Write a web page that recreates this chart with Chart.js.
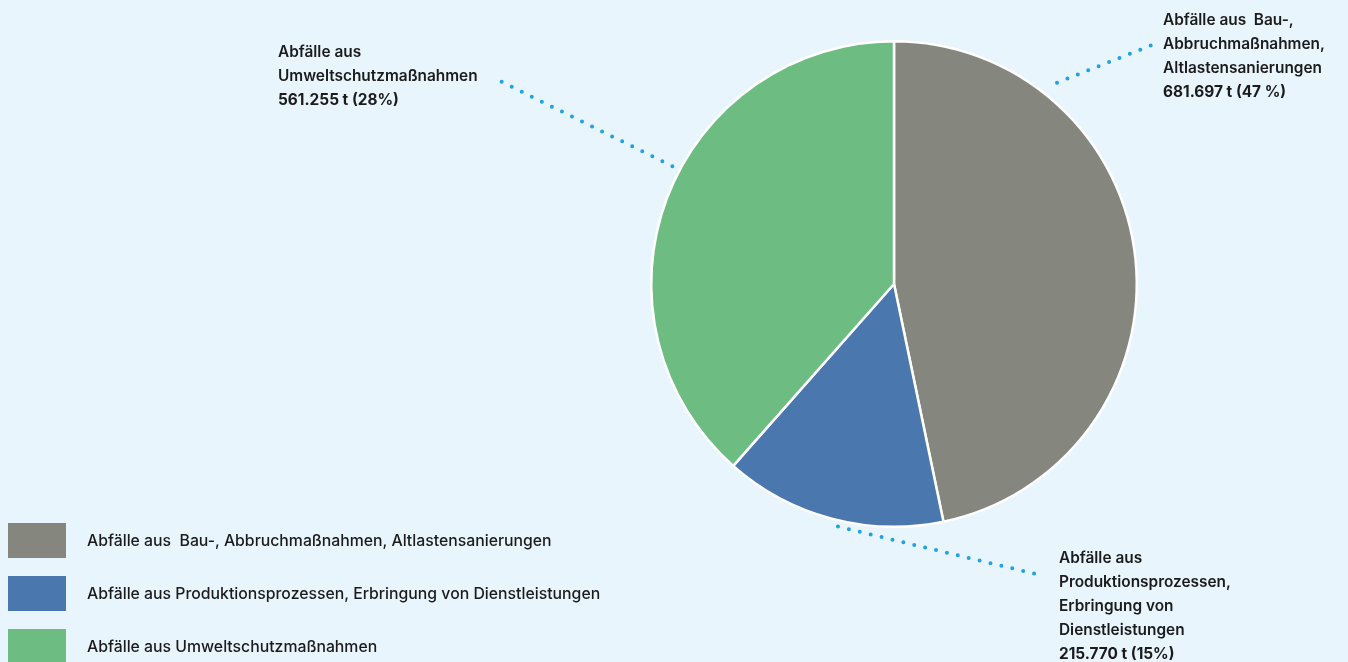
<!DOCTYPE html>
<html>
<head>
<meta charset="utf-8">
<script src="https://cdn.jsdelivr.net/npm/chart.js@4"></script>
<style>
  html, body { margin: 0; padding: 0; background: #e8f5fd; }
  #wrap { position: relative; width: 1348px; height: 662px; overflow: hidden; }
  #wrap canvas { position: absolute; left: 0; top: 0; }
  #legend { position: absolute; left: 8px; top: 523px; font-family: Inter, sans-serif; font-size: 15.8px; font-weight: 500; color: #1b1b1b; }
  .item { height: 35px; margin-bottom: 18px; display: flex; align-items: center; }
  .box { width: 58px; height: 35px; margin-right: 21px; }
</style>
</head>
<body>
<div id="wrap">
  <canvas id="myChart" width="1348" height="662"></canvas>
  <div id="legend"></div>
</div>
<script>
var labels = [
    'Abfälle aus\u00a0 Bau-, Abbruchmaßnahmen, Altlastensanierungen',
    'Abfälle aus Produktionsprozessen, Erbringung von Dienstleistungen',
    'Abfälle aus Umweltschutzmaßnahmen'
];
var tonnes = [681697, 215770, 561255];
var shareText = ['47 %', '15%', '28%'];
var calloutLines = [
    ['Abfälle aus\u00a0 Bau-,', 'Abbruchmaßnahmen,', 'Altlastensanierungen'],
    ['Abfälle aus', 'Produktionsprozessen,', 'Erbringung von', 'Dienstleistungen'],
    ['Abfälle aus', 'Umweltschutzmaßnahmen']
];
var colors = ['#85877f', '#4a78ae', '#6dbd83'];

// where each callout sits and where its dotted leader starts (angle from top, px from centre)
var callouts = [
    { x: 1163, y: 20, angle: 39, dist: 259 },
    { x: 1059, y: 558, angle: 193, dist: 249 },
    { x: 278, y: 52, angle: 298, dist: 251 }
];
var leaderEnds = [[1152, 45], [1040, 575], [498, 80]];

var calloutPlugin = {
    id: 'callouts',
    afterDraw: function(chart) {
        var ctx = chart.ctx;
        var arc = chart.getDatasetMeta(0).data[0];
        var cx = arc.x, cy = arc.y;
        ctx.save();
        callouts.forEach(function(c, i) {
            var a = c.angle * Math.PI / 180;
            var sx = cx + c.dist * Math.sin(a);
            var sy = cy - c.dist * Math.cos(a);
            ctx.beginPath();
            ctx.setLineDash([0, 11.2]);
            ctx.lineCap = 'round';
            ctx.lineWidth = 4;
            ctx.strokeStyle = '#1ea2e4';
            ctx.moveTo(sx, sy);
            ctx.lineTo(leaderEnds[i][0], leaderEnds[i][1]);
            ctx.stroke();

            ctx.setLineDash([]);
            ctx.fillStyle = '#1b1b1b';
            ctx.textBaseline = 'middle';
            ctx.textAlign = 'left';
            var lines = calloutLines[i];
            ctx.font = '600 15.4px Inter, sans-serif';
            lines.forEach(function(t, j) {
                ctx.fillText(t, c.x, c.y + j * 24);
            });
            ctx.font = 'bold 15.4px Inter, sans-serif';
            ctx.fillText(tonnes[i].toLocaleString('de-DE') + ' t (' + shareText[i] + ')', c.x, c.y + lines.length * 24);
        });
        ctx.restore();
    }
};

var ctx = document.getElementById('myChart').getContext('2d');
var myChart = new Chart(ctx, {
    type: 'pie',
    data: {
        labels: labels,
        datasets: [{
            data: tonnes,
            backgroundColor: colors,
            borderColor: '#ffffff',
            borderWidth: 2.5
        }]
    },
    options: {
        responsive: false,
        animation: false,
        layout: {
            padding: { left: 650, right: 210, top: 40, bottom: 134 }
        },
        plugins: {
            legend: { display: false },
            tooltip: { enabled: false }
        }
    },
    plugins: [calloutPlugin]
});

var legend = document.getElementById('legend');
labels.forEach(function(l, i) {
    var item = document.createElement('div');
    item.className = 'item';
    item.innerHTML = '<div class="box" style="background:' + colors[i] + '"></div><span>' + l + '</span>';
    legend.appendChild(item);
});
</script>
</body>
</html>
